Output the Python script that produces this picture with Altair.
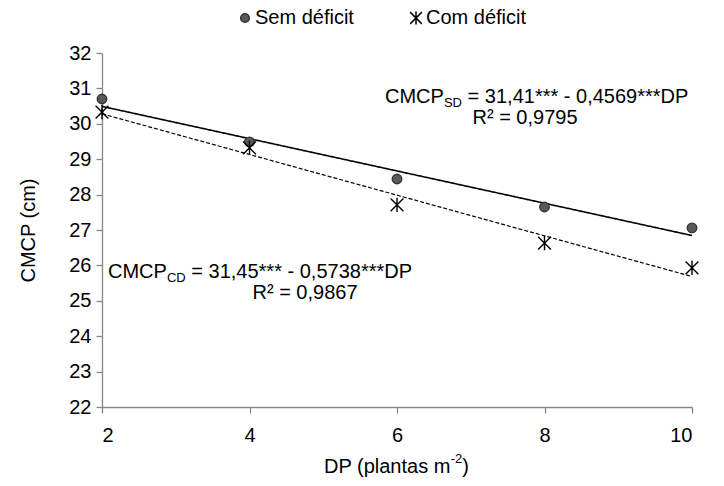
import altair as alt
import pandas as pd

# Plant density (plants per m²) and stem length (cm) for each irrigation regime
dp = [2, 4, 6, 8, 10]
sem_deficit = [30.70, 29.49, 28.44, 27.65, 27.06]
com_deficit = [30.33, 29.32, 27.71, 26.63, 25.93]
series = ["Sem déficit", "Com déficit"]

x_ticks = [2, 4, 6, 8, 10]
y_ticks = list(range(22, 33))

# Fitted-equation annotations: main text, subscript, remainder, R² line
eq_sd = ["CMCP", "SD", "= 31,41*** - 0,4569***DP", "R² = 0,9795"]
eq_cd = ["CMCP", "CD", "= 31,45*** - 0,5738***DP", "R² = 0,9867"]
x_title = ["DP (plantas m", "-2", ")"]

FONT = "Liberation Sans"
GREY = "#868686"
STAR = "M-1.35,-1.35L1.35,1.35M1.35,-1.35L-1.35,1.35M0,-1.5L0,1.5"

df = pd.DataFrame({
    "dp": dp * 2,
    "cmcp": sem_deficit + com_deficit,
    "serie": [series[0]] * len(dp) + [series[1]] * len(dp),
})

x = alt.X(
    "dp:Q",
    scale=alt.Scale(domain=[2, 10], nice=False, zero=False),
    axis=alt.Axis(values=x_ticks, title=None, labelPadding=12),
)
y = alt.Y(
    "cmcp:Q",
    scale=alt.Scale(domain=[22, 32], nice=False, zero=False),
    axis=alt.Axis(values=y_ticks, title="CMCP (cm)", labelPadding=5, titlePadding=30),
)

base = alt.Chart(df)


def trend(name, width, dash):
    return (
        base.transform_filter(alt.datum.serie == name)
        .transform_regression("dp", "cmcp", extent=[2, 10])
        .mark_line(color="black", strokeWidth=width, strokeDash=dash)
        .encode(x=x, y=y)
    )


legend = alt.Legend(
    title=None,
    orient="none",
    direction="horizontal",
    legendX=133,
    legendY=-45,
    labelFont=FONT,
    labelFontSize=20,
    labelColor="black",
    labelOffset=0,
    columnPadding=52,
    symbolStrokeWidth=1.5,
    symbolSize=75,
    padding=0,
)

points = base.mark_point(filled=True, opacity=1, strokeWidth=1.4, size=90).encode(
    x=x,
    y=y,
    shape=alt.Shape("serie:N", scale=alt.Scale(domain=series, range=["circle", STAR]), legend=legend),
    fill=alt.Fill("serie:N", scale=alt.Scale(domain=series, range=["#595959", "transparent"]), legend=legend),
    stroke=alt.Stroke("serie:N", scale=alt.Scale(domain=series, range=["#333333", "#000000"]), legend=legend),
)


def label(text, px, py, size=20, align="left", baseline="middle"):
    return (
        alt.Chart(pd.DataFrame({"t": [text]}))
        .mark_text(font=FONT, fontSize=size, align=align, baseline=baseline, color="black")
        .encode(text="t:N", x=alt.value(px), y=alt.value(py))
    )


def equation(parts, left, top, r2_center):
    main, sub, rest, r2 = parts
    w_main = 58.9
    w_sub = 18.8 if sub == "CD" else 18.1
    w_space = 5.6
    return [
        label(main, left, top),
        label(sub, left + w_main, top + 6, size=13),
        label(rest, left + w_main + w_sub + w_space, top),
        label(r2, r2_center, top + 21, align="center"),
    ]


annotations = (
    equation(eq_sd, 283, 44, 423)
    + equation(eq_cd, 6, 219, 203)
    + [
        label(x_title[0], 222, 414),
        label(x_title[1], 348.7, 406, size=13),
        label(x_title[2], 360.3, 414),
    ]
)

chart = (
    alt.layer(
        trend(series[0], 1.6, [1, 0]),
        trend(series[1], 1.2, [4, 2]),
        points,
        *annotations,
    )
    .properties(
        width=590,
        height=354,
        autosize=alt.AutoSizeParams(type="none"),
        padding={"left": 102, "top": 53, "right": 32, "bottom": 79},
        background="white",
    )
    .configure_view(stroke=None)
    .configure_axis(
        grid=False,
        domainColor=GREY,
        domainWidth=1.3,
        tickColor=GREY,
        tickWidth=1.3,
        tickSize=6,
        labelFont=FONT,
        labelFontSize=20,
        labelColor="black",
        titleFont=FONT,
        titleFontSize=20,
        titleFontWeight="normal",
        titleColor="black",
    )
)

chart.save("out.html", embed_options={"renderer": "svg", "actions": False})
